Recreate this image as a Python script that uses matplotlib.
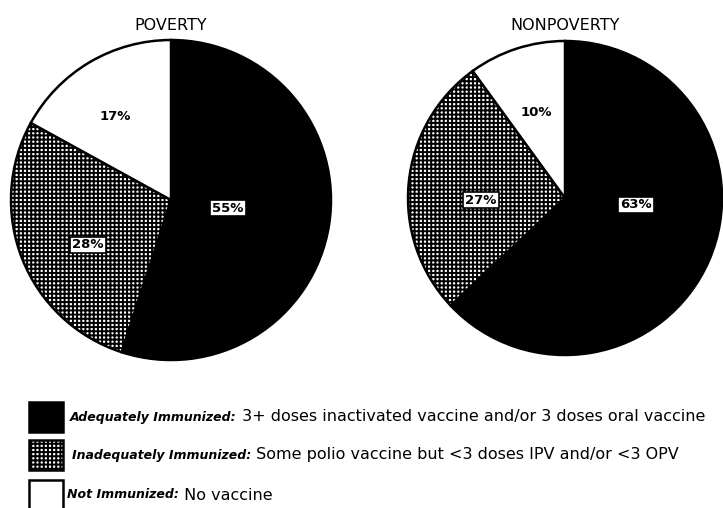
import matplotlib
matplotlib.use("Agg")
import matplotlib.pyplot as plt
from matplotlib.patches import Rectangle

# Polio immunization status of children, by poverty level (percent)
groups = ["POVERTY", "NONPOVERTY"]
statuses = ["Adequately Immunized", "Inadequately Immunized", "Not Immunized"]
poverty_pct = [55, 28, 17]
nonpoverty_pct = [63, 27, 10]
legend_terms = ["Adequately Immunized:", "Inadequately Immunized:", "Not Immunized:"]
legend_notes = [
    " 3+ doses inactivated vaccine and/or 3 doses oral vaccine",
    " Some polio vaccine but <3 doses IPV and/or <3 OPV",
    " No vaccine",
]

W, H = 723, 508
plt.rcParams["hatch.linewidth"] = 1.4

fig = plt.figure(figsize=(W / 100, H / 100), dpi=100)
ax = fig.add_axes([0, 0, 1, 1])

fills = ["black", "white", "white"]
hatches = [None, "++++", None]


def draw_pie(values, cx, cy, r, title, label_pos, boxed):
    wedges, _ = ax.pie(values, center=(cx, H - cy), radius=r, startangle=90,
                       counterclock=False, colors=fills, frame=True,
                       wedgeprops=dict(edgecolor="black", linewidth=1.8))
    for w, h in zip(wedges, hatches):
        if h:
            w.set_hatch(h)
    ax.text(cx, H - 25, title, ha="center", va="center", fontsize=11.5,
            family="DejaVu Sans")
    for v, (dx, dy), b in zip(values, label_pos, boxed):
        bbox = dict(boxstyle="square,pad=0.15", fc="white", ec="black", lw=1.2) if b else None
        ax.text(cx + dx, H - cy - dy, f"{v}%", ha="center", va="center",
                fontsize=9.5, fontweight="bold", family="DejaVu Sans",
                bbox=bbox)


draw_pie(poverty_pct, 171, 200, 160, groups[0],
         [(57, 8), (-83, 45), (-56, -83)], [True, True, False])
draw_pie(nonpoverty_pct, 565, 198, 157, groups[1],
         [(71, 7), (-84, 2), (-29, -86)], [True, True, False])

# legend swatches with two-part captions
rows_y = [417, 455, 495]
text_x = [70, 72, 67]
for i, (term, note) in enumerate(zip(legend_terms, legend_notes)):
    y = H - rows_y[i]
    ax.add_patch(Rectangle((29, y - 15), 34, 30, fc=fills[i], ec="black",
                           lw=1.8, hatch=hatches[i]))
    t1 = ax.text(text_x[i], y, term, ha="left", va="center", fontsize=9,
                 style="oblique", fontweight="bold", family="DejaVu Sans")
    ax.annotate(note, xy=(1, 0.5), xycoords=t1, ha="left", va="center",
                fontsize=11.5, family="DejaVu Sans")

ax.set_xlim(0, W)
ax.set_ylim(0, H)
ax.set_aspect("auto")
ax.axis("off")

fig.savefig("out.png", dpi=100)
